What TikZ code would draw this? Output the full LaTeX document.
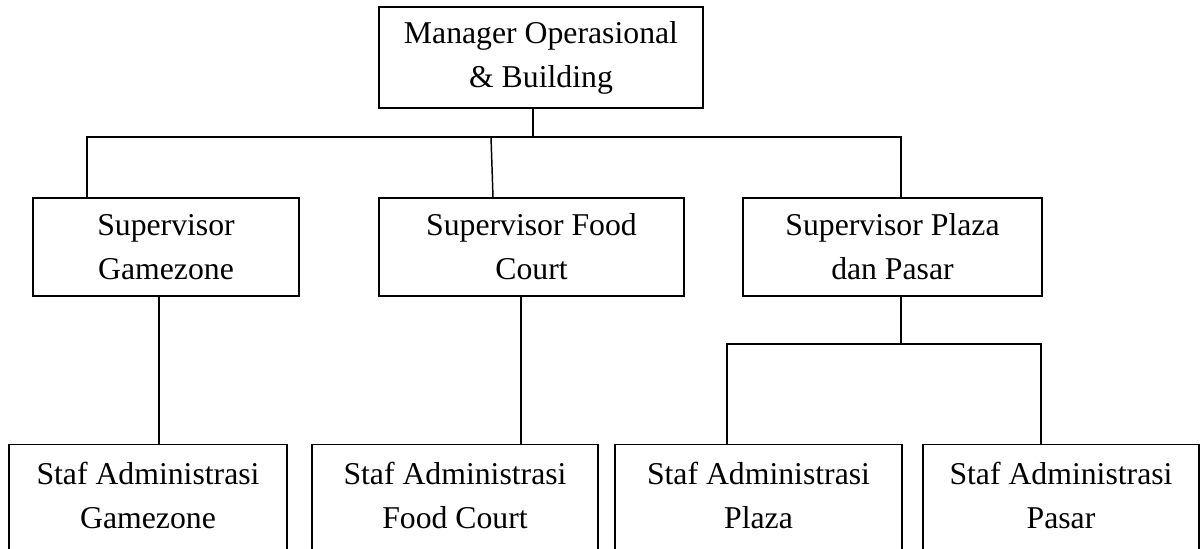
\documentclass[tikz,border=0pt]{standalone}
\usepackage{fontspec}
\setmainfont{Liberation Serif}

\begin{document}
\begin{tikzpicture}[x=0.75pt, y=-0.75pt, line width=1.1pt,
    jabatan/.style={draw, align=center, inner sep=0pt,
        font=\fontsize{23.8pt}{33pt}\selectfont},
    staf/.style={draw, align=center, anchor=north, inner xsep=0pt,
        inner ysep=13.2pt, text depth=150pt,
        font=\fontsize{23.8pt}{33pt}\selectfont}]

    \useasboundingbox (0,0) rectangle (1203,549);
    \clip (0,0) rectangle (1203,549);

    % manager and supervisors
    \node[jabatan, minimum width=243pt, minimum height=75.75pt] (mgr) at (541,57.5) {Manager Operasional\\ \& Building};
    \node[jabatan, minimum width=199.5pt, minimum height=73.5pt] (supGame) at (166,247) {Supervisor\\ Gamezone};
    \node[jabatan, minimum width=228.75pt, minimum height=73.5pt] (supFood) at (531.5,247) {Supervisor Food\\ Court};
    \node[jabatan, minimum width=224.25pt, minimum height=73.5pt] (supPlaza) at (892.5,247) {Supervisor Plaza\\ dan Pasar};

    % staff row
    \node[staf, minimum width=208.5pt] (stafGame) at (148,444) {Staf Administrasi\\ Gamezone};
    \node[staf, minimum width=214.5pt] (stafFood) at (455,444) {Staf Administrasi\\ Food Court};
    \node[staf, minimum width=215.25pt] (stafPlaza) at (758.5,444) {Staf Administrasi\\ Plaza};
    \node[staf, minimum width=207pt] (stafPasar) at (1061,444) {Staf Administrasi\\ Pasar};

    \coordinate (busTop) at (533,137);
    \coordinate (busL) at (87,137);
    \coordinate (busR) at (901,137);
    \coordinate (fcTop) at (491,137);
    \coordinate (fcBot) at (493,0);
    \draw (mgr.south -| busTop) -- (busTop);
    \draw (supGame.north -| busL) -- (busL) -- (busR) -- (supPlaza.north -| busR);
    \draw (fcTop) -- (supFood.north -| fcBot);

    \coordinate (gz) at (159,0);
    \coordinate (fc) at (521,0);
    \draw (supGame.south -| gz) -- (stafGame.north -| gz);
    \draw (supFood.south -| fc) -- (stafFood.north -| fc);

    \coordinate (busB) at (901,344);
    \coordinate (busBL) at (727,344);
    \coordinate (busBR) at (1041,344);
    \draw (supPlaza.south -| busB) -- (busB);
    \draw (stafPlaza.north -| busBL) -- (busBL) -- (busBR) -- (stafPasar.north -| busBR);

\end{tikzpicture}
\end{document}
